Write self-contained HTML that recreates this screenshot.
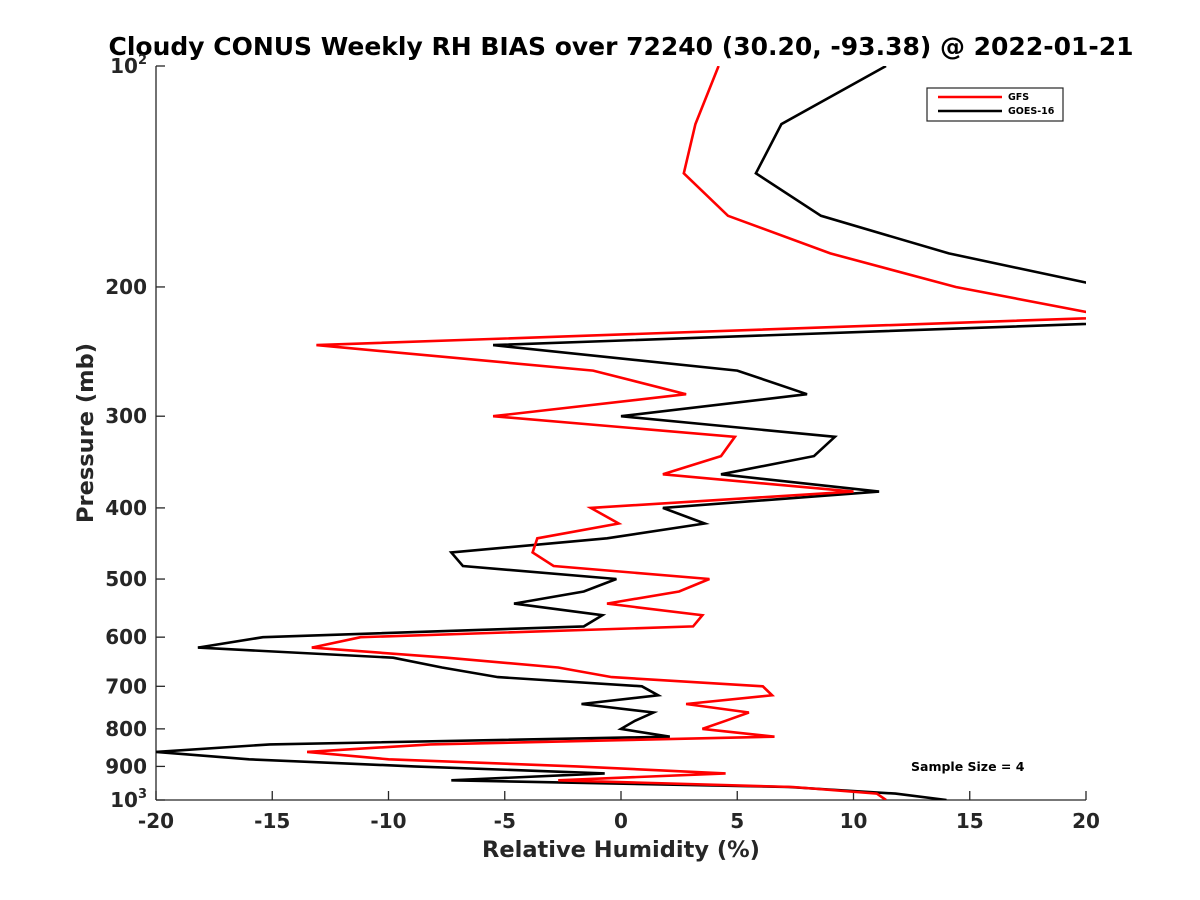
<!DOCTYPE html>
<html><head><meta charset="utf-8"><style>
body{margin:0;background:#fff;}
svg{display:block;font-family:"DejaVu Sans","Liberation Sans",sans-serif;font-weight:bold;}
</style></head><body>
<svg id="chart" width="1200" height="900" xmlns="http://www.w3.org/2000/svg">
<rect width="1200" height="900" fill="#fff"/>
<text x="621" y="55" text-anchor="middle" font-size="24.5" textLength="1025" lengthAdjust="spacingAndGlyphs" fill="#000">Cloudy CONUS Weekly RH BIAS over 72240 (30.20, -93.38) @ 2022-01-21</text>
<defs><clipPath id="plotclip"><rect x="156" y="66" width="930" height="734"/></clipPath></defs>
<g id="axes"></g>
<g id="series" clip-path="url(#plotclip)"></g>
<text x="621" y="857" text-anchor="middle" font-size="22.5" fill="#262626">Relative Humidity (%)</text>
<text transform="translate(93,433) rotate(-90)" text-anchor="middle" font-size="22.5" fill="#262626">Pressure (mb)</text>
<g>
<rect x="927" y="88" width="136" height="33" fill="#fff" stroke="#262626" stroke-width="1.2"/>
<line x1="938" y1="97" x2="1002" y2="97" stroke="#f00" stroke-width="2.5"/>
<text x="1008" y="100" font-size="9.5" fill="#000">GFS</text>
<line x1="938" y1="111" x2="1002" y2="111" stroke="#000" stroke-width="2.5"/>
<text x="1008" y="114" font-size="9.5" fill="#000">GOES-16</text>
</g>
<text x="911" y="771" font-size="12.5" fill="#000">Sample Size = 4</text>
</svg>
<script>
const pressures = [100,120,140,160,180,200,220,240,260,280,300,320,340,360,380,400,420,440,460,480,500,520,540,560,580,600,620,640,660,680,700,720,740,760,780,800,820,840,860,880,900,920,940,960,980,1000];
const gfsValues = [4.2,3.2,2.7,4.6,9.0,14.4,21.2,-13.1,-1.2,2.8,-5.5,4.9,4.3,1.8,10.0,-1.3,-0.1,-3.6,-3.8,-2.9,3.8,2.5,-0.6,3.5,3.1,-11.2,-13.3,-7.5,-2.7,-0.4,6.1,6.5,2.8,5.5,4.5,3.5,6.6,-8.2,-13.5,-10.0,-1.9,4.5,-2.7,7.4,11.0,11.4];
const goesValues = [11.4,6.9,5.8,8.6,14.1,20.9,28.0,-5.5,5.0,8.0,0.0,9.2,8.3,4.3,11.1,1.8,3.6,-0.6,-7.3,-6.8,-0.2,-1.6,-4.6,-0.8,-1.6,-15.4,-18.2,-9.8,-7.7,-5.3,0.9,1.6,-1.7,1.4,0.6,0.0,2.1,-15.1,-20.0,-16.0,-8.9,-0.7,-7.3,7.2,11.8,14.0];
const xTicks = [-20,-15,-10,-5,0,5,10,15,20];
const yTicks = [100,200,300,400,500,600,700,800,900,1000];
const yTickLabels = ["10²","200","300","400","500","600","700","800","900","10³"];

const NS = "http://www.w3.org/2000/svg";
const X0=156, X1=1086, Y0=66, Y1=800;
function xScale(v){ return X0 + (v+20)/40*(X1-X0); }
function yScale(p){ return Y0 + (Math.log10(p)-2)*(Y1-Y0); }
function mk(tag, attrs, parent){
  const el=document.createElementNS(NS,tag);
  for(const k in attrs) el.setAttribute(k,attrs[k]);
  parent.appendChild(el); return el;
}
const axes=document.getElementById('axes');
const series=document.getElementById('series');
const yl=mk('line',{x1:X0,y1:Y0,x2:X0,y2:Y1,stroke:'#262626','stroke-width':1.3},axes);


const xl=mk('line',{x1:X0,y1:Y1,x2:X1,y2:Y1,stroke:'#262626','stroke-width':1.3},axes);


xTicks.forEach(v=>{
  const x=xScale(v);
  const t=mk('line',{x1:x,y1:Y1,x2:x,y2:Y1-9,stroke:'#262626','stroke-width':1.3},axes);
  
  
  const l=mk('text',{x:x,y:Y1+28,'text-anchor':'middle','font-size':20,fill:'#262626'},axes);
  l.textContent=String(v);
  
  
});
yTicks.forEach((p,i)=>{
  const y=yScale(p);
  const t=mk('line',{x1:X0,y1:y,x2:X0+9,y2:y,stroke:'#262626','stroke-width':1.3},axes);
  
  
  const l=mk('text',{x:X0-9,y:y+7,'text-anchor':'end','font-size':20,fill:'#262626'},axes);
  const lab=yTickLabels[i];
  if(lab.indexOf('10')===0 && lab.length>2){
    l.textContent='10';
    const s=mk('tspan',{dy:-9,'font-size':13},l);
    s.textContent=lab.slice(2)==='²'?'2':'3';
  } else l.textContent=lab;
  
  
});
function drawLine(vals,color,name){
  const pts=vals.map((v,i)=>xScale(v).toFixed(1)+','+yScale(pressures[i]).toFixed(1)).join(' ');
  const pl=mk('polyline',{points:pts,fill:'none',stroke:color,'stroke-width':2.6,'stroke-linejoin':'miter'},series);
  
  
}
drawLine(goesValues,'#000','goes16-line');
drawLine(gfsValues,'#f00','gfs-line');
</script>
</body></html>
